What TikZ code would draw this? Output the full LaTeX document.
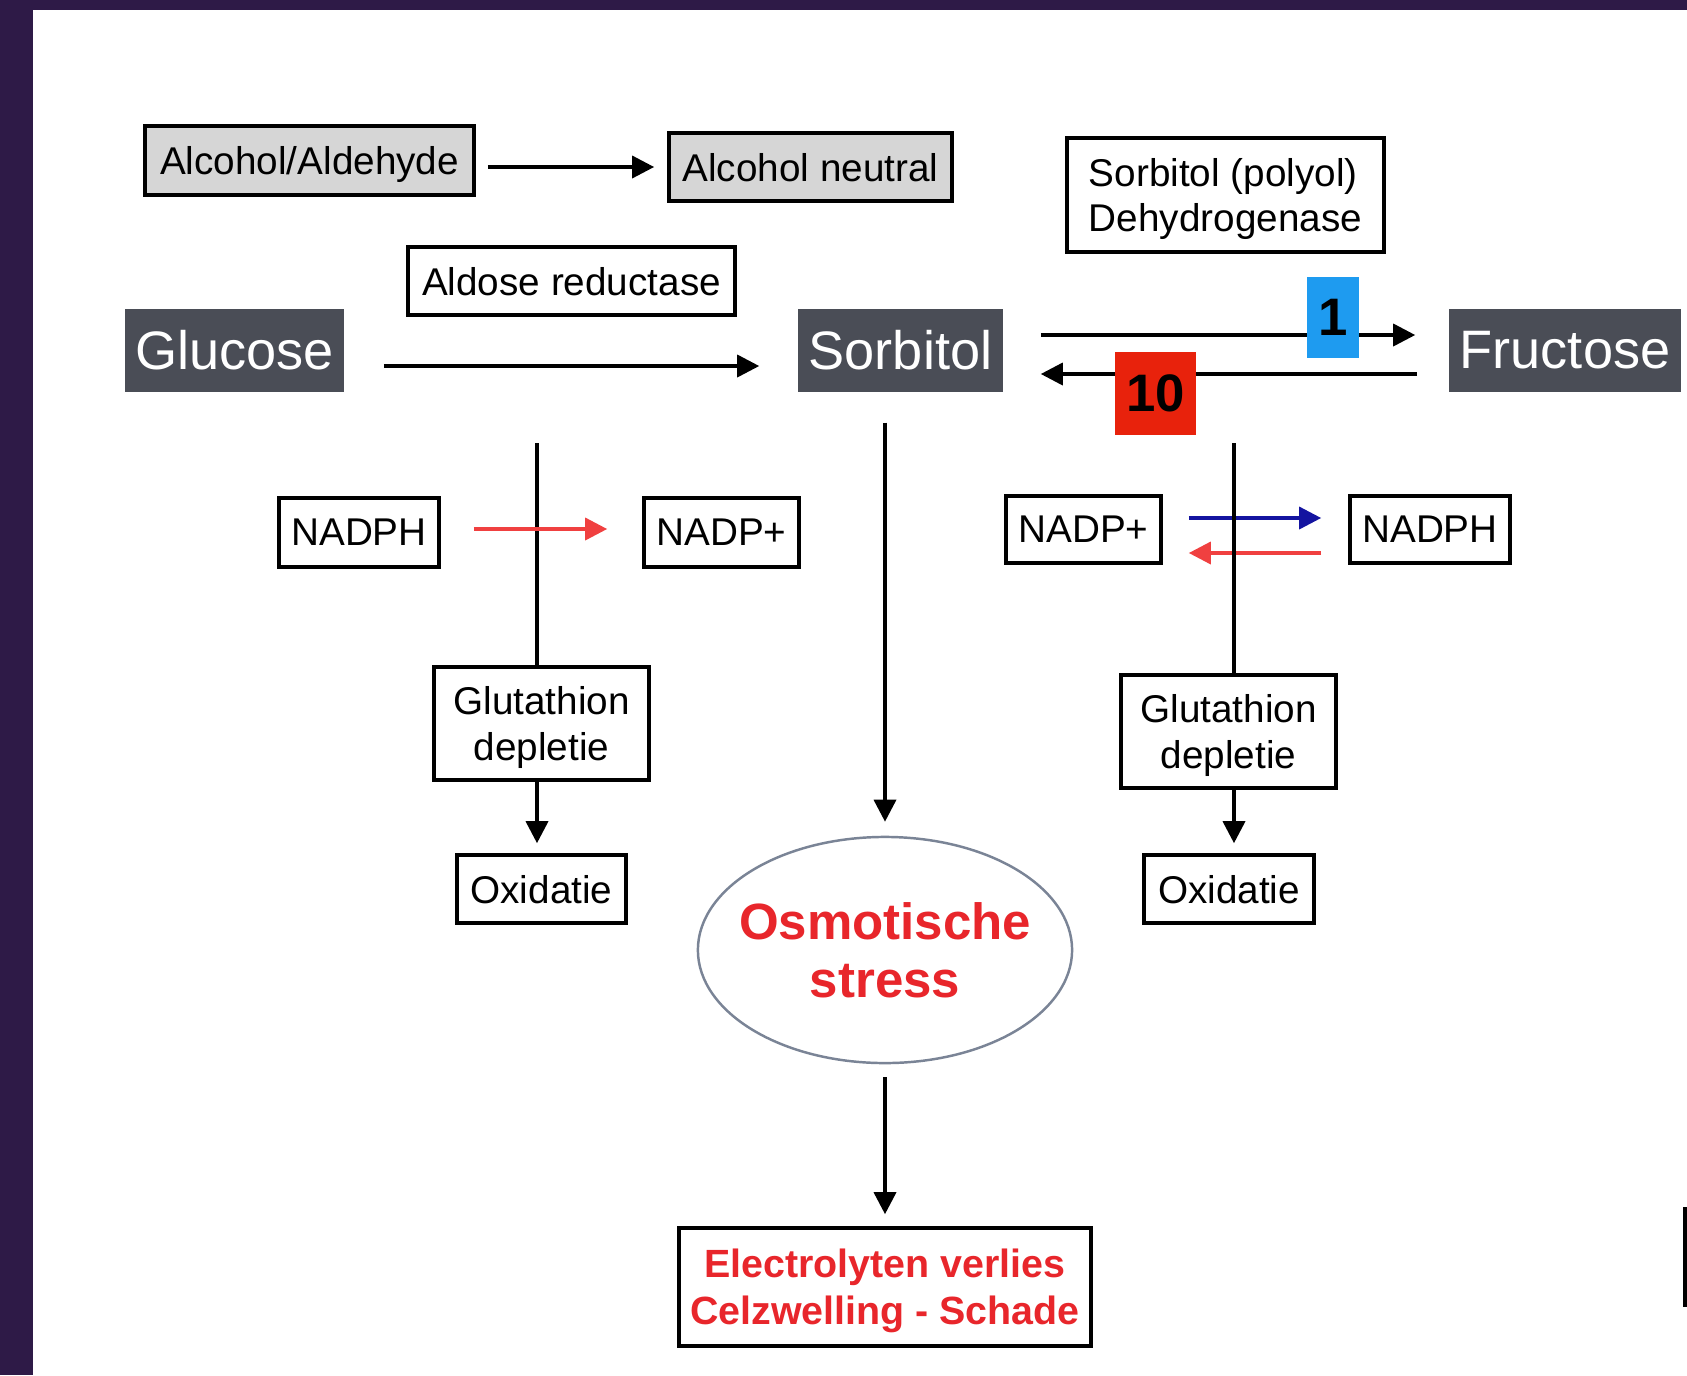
\documentclass[tikz,border=0pt]{standalone}
\usepackage{fontspec}
\setmainfont{Liberation Sans}
\usetikzlibrary{arrows.meta, positioning, shapes.geometric, calc}
\definecolor{frameDark}{HTML}{2E1A47}
\definecolor{blokGrey}{HTML}{4A4D56}
\definecolor{kaderGrey}{HTML}{D6D6D6}
\definecolor{alarmRed}{HTML}{E8262B}
\definecolor{nummerBlue}{HTML}{1E9BF0}
\definecolor{nummerRed}{HTML}{E8220C}
\definecolor{pijlBlue}{HTML}{1414A0}
\definecolor{pijlRed}{HTML}{F04040}
\definecolor{ellipsGrey}{HTML}{7A8496}

\begin{document}
\begin{tikzpicture}[x=0.01cm, y=-0.01cm,
    kader/.style={draw, line width=1pt, align=center, inner sep=2pt, text depth=0pt,
                  minimum height=0.68cm, font=\fontsize{11}{13}\selectfont},
    blok/.style={fill=blokGrey, text=white, inner sep=2pt,
                 minimum height=0.83cm, font=\fontsize{15.4}{18}\selectfont},
    nummer/.style={inner sep=0pt, font=\fontsize{15}{17}\selectfont\bfseries},
    rood/.style={text=alarmRed, font=\fontsize{11.2}{13.4}\selectfont\bfseries},
    fl/.style={-{Triangle[length=2.2mm, width=2.2mm]}, line width=1pt},
    lijn/.style={line width=1pt}]
    \useasboundingbox (0,0) rectangle (1687,1375);
    \fill[white] (0,0) rectangle (1687,1375);
    \fill[frameDark] (0,0) rectangle (1687,10);
    \fill[frameDark] (0,0) rectangle (33,1375);
    % bovenste rij
    \node[kader, fill=kaderGrey, minimum width=3.29cm, minimum height=0.69cm] (aa) at (309.5,160.5) {Alcohol/Aldehyde};
    \node[kader, fill=kaderGrey, minimum width=2.83cm] (an) at (810.5,167) {Alcohol neutral};
    \node[kader, align=left, minimum width=3.17cm, minimum height=1.14cm] (sdh) at (1225.5,195) {Sorbitol (polyol)\\Dehydrogenase};
    \node[kader, minimum width=3.27cm] (ar) at (571.5,281) {Aldose reductase};
    % suikers
    \node[blok, minimum width=2.19cm] (glucose) at (234.5,350.5) {Glucose};
    \node[blok, minimum width=2.05cm] (sorbitol) at (900.5,350.5) {Sorbitol};
    \node[blok, minimum width=2.32cm] (fructose) at (1565,350.5) {Fructose};
    % linker tak
    \node[kader, minimum width=1.60cm, minimum height=0.69cm] (nadph1) at (359,532.5) {NADPH};
    \node[kader, minimum width=1.55cm, minimum height=0.69cm] (nadp1) at (721.5,532.5) {NADP+};
    \node[kader, minimum width=2.15cm, minimum height=1.13cm] (gl1) at (541.5,723.5) {Glutathion\\depletie};
    \node[kader, minimum width=1.69cm] (ox1) at (541.5,889) {Oxidatie};
    % rechter tak
    \node[kader, minimum width=1.55cm, minimum height=0.67cm] (nadp2) at (1083.5,529.5) {NADP+};
    \node[kader, minimum width=1.60cm, minimum height=0.67cm] (nadph2) at (1430,529.5) {NADPH};
    \node[kader, minimum width=2.15cm, minimum height=1.13cm] (gl2) at (1228.5,731.5) {Glutathion\\depletie};
    \node[kader, minimum width=1.70cm] (ox2) at (1229,889) {Oxidatie};
    % midden
    \node[ellipse, draw=ellipsGrey, line width=0.7pt, minimum width=3.74cm, minimum height=2.26cm, inner sep=0pt,
          label={[align=center, text=alarmRed, font=\fontsize{14.5}{16.5}\selectfont\bfseries]center:Osmotische\\stress}] (stress) at (885,950) {};
    \node[kader, rood, minimum width=4.12cm, minimum height=1.18cm] (gevolg) at (885,1287) {Electrolyten verlies\\Celzwelling - Schade};
    % pijlen
    \draw[fl] ($(aa.east)+(12,6.5)$) -- ($(an.west)+(-13,0)$);
    \draw[fl] ($(glucose.east)+(39,15.5)$) -- ($(sorbitol.west)+(-38,15.5)$);
    \draw[fl] ($(sorbitol.east)+(37,-15.5)$) -- ($(fructose.west)+(-33,-15.5)$);
    \draw[fl] ($(fructose.west)+(-31,23.5)$) -- ($(sorbitol.east)+(37,23.5)$);
    \draw[fl] ($(sorbitol.south -| stress.north)+(0,30)$) -- ($(stress.north)+(0,-14)$);
    \draw[fl] ($(stress.south)+(0,13)$) -- ($(gevolg.north)+(0,-12)$);
    \coordinate (links) at (537,443);
    \coordinate (rechts) at (1234,443);
    \draw[lijn] (links) -- (links |- gl1.north);
    \draw[fl] (gl1.south -| links) -- ($(ox1.north -| links)+(0,-10)$);
    \draw[fl, color=pijlRed] ($(nadph1.east)+(33,-3.5)$) -- ($(nadp1.west)+(-35,-3.5)$);
    \draw[fl, color=pijlBlue] ($(nadp2.east)+(26,-11.5)$) -- ($(nadph2.west)+(-27,-11.5)$);
    \draw[fl, color=pijlRed] ($(nadph2.west)+(-27,23.5)$) -- ($(nadp2.east)+(26,23.5)$);
    \draw[lijn] (rechts) -- (rechts |- gl2.north);
    \draw[fl] (gl2.south -| rechts) -- ($(ox2.north -| rechts)+(0,-10)$);
    % verhouding
    \node[nummer, fill=nummerBlue, minimum width=0.52cm, minimum height=0.81cm] (een) at (1333,317.5) {1};
    \node[nummer, fill=nummerRed, minimum width=0.81cm, minimum height=0.83cm] (tien) at (1155.5,393.5) {10};
    \draw[line width=1pt] (1685,1207) -- (1685,1307);
  \end{tikzpicture}
\end{document}
